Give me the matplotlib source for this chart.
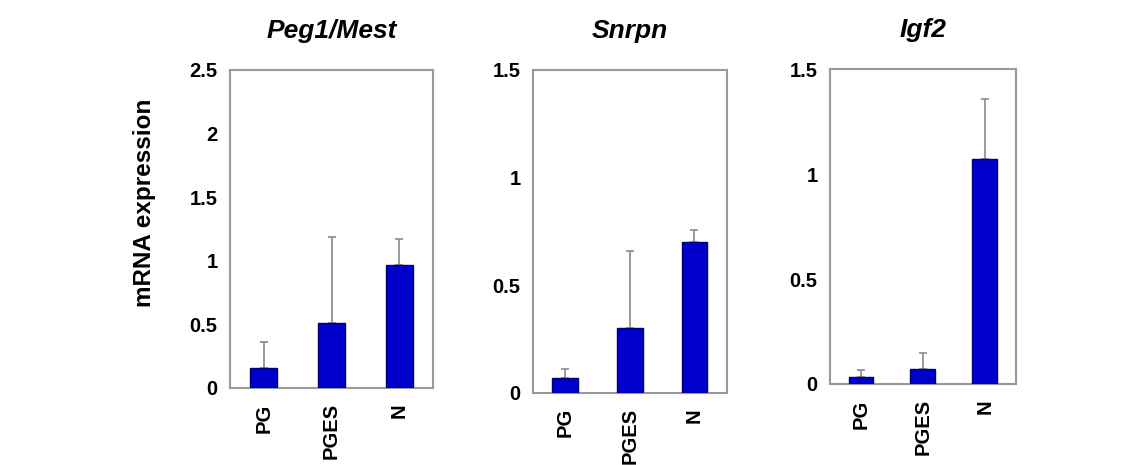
import numpy as np
import matplotlib.pyplot as plt

plt.rcParams['font.family'] = ['Liberation Sans', 'DejaVu Sans']

groups = ['PG', 'PGES', 'N']
titles = ['Peg1/Mest', 'Snrpn', 'Igf2']

peg1_mean = [0.16, 0.51, 0.97]
peg1_err = [0.20, 0.68, 0.20]
snrpn_mean = [0.07, 0.30, 0.70]
snrpn_err = [0.04, 0.36, 0.055]
igf2_mean = [0.033, 0.07, 1.07]
igf2_err = [0.034, 0.08, 0.29]

means = [peg1_mean, snrpn_mean, igf2_mean]
errs = [peg1_err, snrpn_err, igf2_err]
ymax = [2.5, 1.5, 1.5]
yticks = [[0, 0.5, 1, 1.5, 2, 2.5], [0, 0.5, 1, 1.5], [0, 0.5, 1, 1.5]]
ytick_labels = [['0', '0.5', '1', '1.5', '2', '2.5'], ['0', '0.5', '1', '1.5'], ['0', '0.5', '1', '1.5']]

# axes boxes in figure fractions
boxes = [[0.2018, 0.1656, 0.178, 0.684],
         [0.4675, 0.155, 0.170, 0.695],
         [0.728, 0.1742, 0.163, 0.677]]

fig = plt.figure(figsize=(11.4, 4.65), dpi=100)

for i in range(3):
    ax = fig.add_axes(boxes[i])
    x = np.arange(len(groups)) + 0.5
    ax.bar(x, means[i], width=0.4, color='#0000cc', edgecolor='#00007a', linewidth=1.0, zorder=3)
    ax.errorbar(x, means[i], yerr=[np.zeros(3), errs[i]], fmt='none', ecolor='#8a8a8a',
                elinewidth=1.2, capsize=3, capthick=1.2, zorder=2)
    ax.set_xlim(0, 3)
    ax.set_ylim(0, ymax[i])
    ax.set_yticks(yticks[i])
    ax.set_yticklabels(ytick_labels[i], fontsize=14.5, fontweight='bold')
    ax.set_xticks(x)
    ax.set_xticklabels(groups, rotation=90, fontsize=14.5, fontweight='bold')
    ax.tick_params(axis='y', length=0, pad=9)
    ax.tick_params(axis='x', length=0, pad=11)
    for s in ax.spines.values():
        s.set_color('#999999')
        s.set_linewidth(1.5)
    ax.set_title(titles[i], fontsize=19, fontweight='bold', style='italic', pad=23)

fig.text(144 / 1140, 1 - 203 / 465, 'mRNA expression', rotation=90, ha='center', va='center',
         fontsize=17.5, fontweight='bold')

fig.savefig('out.png', dpi=100)
